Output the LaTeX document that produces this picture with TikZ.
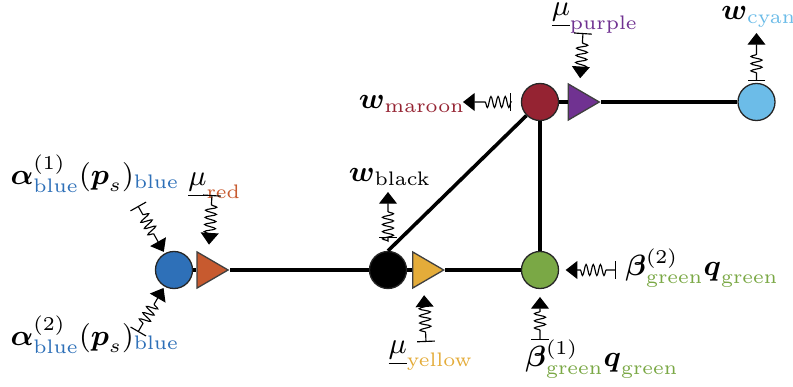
\documentclass[tikz,border=0pt]{standalone}
\usepackage{amsmath,amssymb}
\usepackage{xcolor}
\usepackage{tikz}
\usetikzlibrary{arrows.meta,positioning,shapes.geometric,decorations.pathmorphing}

\definecolor{cblue}{RGB}{46,112,184}
\definecolor{cred}{RGB}{199,90,47}
\definecolor{cyellow}{RGB}{228,172,58}
\definecolor{cgreen}{RGB}{122,168,69}
\definecolor{cmaroon}{RGB}{149,35,50}
\definecolor{cpurple}{RGB}{112,50,145}
\definecolor{ccyan}{RGB}{108,188,232}

\newcommand{\bv}[1]{\boldsymbol{#1}}
\newcommand{\ct}[2]{\textcolor{#1}{\text{#2}}}

\begin{document}
\begin{tikzpicture}[
  x=0.0108cm, y=0.0108cm,
  dot/.style={circle, draw=black!85, line width=0.4pt, inner sep=0pt, minimum size=0.4cm},
  tri/.style={isosceles triangle, isosceles triangle stretches, draw=black!75, line width=0.4pt, inner sep=0pt, minimum width=0.39cm, minimum height=0.335cm},
  bond/.style={line width=1.1pt},
  spring/.style={{Bar[width=5.5pt]}-{Triangle[width=5.5pt,length=3.6pt]}, line width=0.35pt, decorate,
    decoration={snake, amplitude=1.7pt, segment length=2.2pt, pre length=3pt, post length=5.8pt}},
  lbl/.style={inner sep=0pt, font=\fontsize{8.6}{10.3}\selectfont}
]
\useasboundingbox (0,0) rectangle (793,387);

% main nodes
\node[dot, fill=cblue] (blue) at (174,117) {};
\node[tri, fill=cred, right=1pt of blue] (red) {};
\node[dot, fill=black] (black) at (388,117) {};
\node[tri, fill=cyellow, right=1.5pt of black] (yellow) {};
\node[dot, fill=cgreen] (green) at (540,117) {};
\node[dot, fill=cmaroon] (maroon) at (540,285) {};
\node[tri, fill=cpurple, right=2.6pt of maroon] (purple) {};
\node[dot, fill=ccyan] (cyan) at (756.5,285) {};

\draw[bond] (blue) -- (red) -- (black) -- (yellow) -- (green);
\draw[bond] (black.north) -- (maroon.south west);
\draw[bond] (green) -- (maroon) -- (purple) -- (cyan);

% labels
\node[lbl] (la1) at (95,213) {$\bv{\alpha}^{(1)}_{\ct{cblue}{blue}}(\bv{p}_s)_{\ct{cblue}{blue}}$};
\node[lbl] (la2) at (95,52) {$\bv{\alpha}^{(2)}_{\ct{cblue}{blue}}(\bv{p}_s)_{\ct{cblue}{blue}}$};
\node[lbl] (lmr) at (215,201) {$\underline{\mu}_{\ct{cred}{red}}$};
\node[lbl] (lwb) at (390,210) {$\bv{w}_{\text{black}}$};
\node[lbl] (lmy) at (431,31) {$\underline{\mu}_{\ct{cyellow}{yellow}}$};
\node[lbl] (lb1) at (602,28) {$\bv{\beta}^{(1)}_{\ct{cgreen}{green}}\bv{q}_{\ct{cgreen}{green}}$};
\node[lbl] (lb2) at (702,119) {$\bv{\beta}^{(2)}_{\ct{cgreen}{green}}\bv{q}_{\ct{cgreen}{green}}$};
\node[lbl] (lwm) at (412,283) {$\bv{w}_{\ct{cmaroon}{maroon}}$};
\node[lbl] (lmp) at (595,369) {$\underline{\mu}_{\ct{cpurple}{purple}}$};
\node[lbl] (lwc) at (759,370) {$\bv{w}_{\ct{ccyan}{cyan}}$};

% spring ends
\coordinate (a1) at (138,181);
\coordinate (a2) at (138,55);
\coordinate (mr) at (212,192);
\coordinate (wb) at (388,195);
\coordinate (my) at (426,45);
\coordinate (b1) at (540,47);
\coordinate (b2) at (616,117);
\coordinate (wm) at (463,285);
\coordinate (mp) at (583,354);
\coordinate (wc) at (756.5,354);

% springs
\draw[spring, shorten >=0.5pt] (a1) -- (blue);
\draw[spring, shorten >=0.5pt] (a2) -- (blue);
\draw[spring, shorten >=4pt] (mr) -- (red);
\draw[spring, shorten <=3.8pt] (black) -- (wb);
\draw[spring, shorten >=3.9pt] (my) -- (yellow);
\draw[spring, shorten >=2.4pt] (b1) -- (green);
\draw[spring, shorten >=2pt] (b2) -- (green);
\draw[spring, shorten <=2.9pt] (maroon) -- (wm);
\draw[spring, shorten >=3.5pt] (mp) -- (purple);
\draw[spring, shorten <=0.5pt] (cyan) -- (wc);
\end{tikzpicture}
\end{document}
